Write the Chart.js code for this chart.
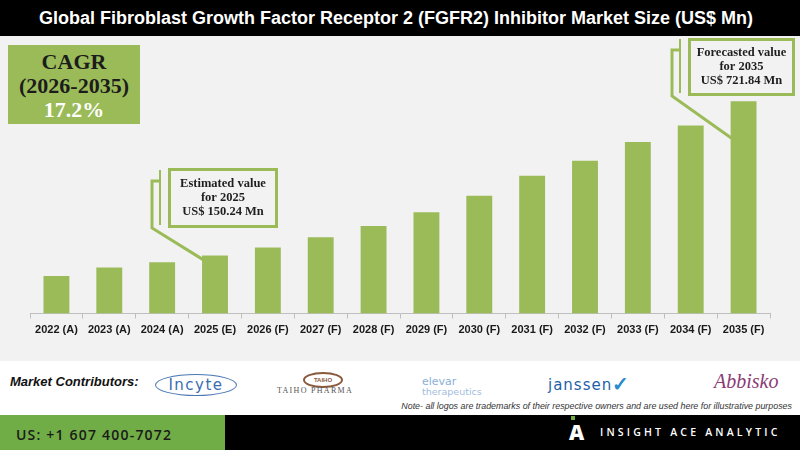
<!DOCTYPE html>
<html>
<head>
<meta charset="utf-8">
<script src="https://cdn.jsdelivr.net/npm/chart.js@4.4.1/dist/chart.umd.min.js"></script>
<style>
body { margin:0; width:800px; height:450px; overflow:hidden; background:#fff; font-family:Arial, "Liberation Sans", sans-serif; position:relative; }
#title { position:absolute; left:0; top:0; width:792px; height:36px; background:#000; color:#fff; font-weight:bold; font-size:18px; line-height:36px; text-align:center; padding-right:8px; }
#plot { position:absolute; left:0; top:36px; width:800px; height:325px; background:#f2f2f2; }
#cagr { position:absolute; left:8px; top:45px; width:132px; height:79px; background:#9bbb59; text-align:center;
        font-family:"Liberation Serif", serif; font-weight:bold; font-size:22px; line-height:24px; padding-top:5px; box-sizing:border-box; color:#1c1c1c; }
#cagr .w { color:#fff; }
.abs { position:absolute; white-space:nowrap; }
#mc { left:10px; top:374px; font-size:13px; font-weight:bold; font-style:italic; color:#111; }
#note { right:8px; top:401px; font-size:8.9px; font-style:italic; color:#333; }
#green { left:0; top:415px; width:225px; height:35px; background:#70ad47; }
#black { left:225px; top:415px; width:575px; height:35px; background:#000; }
#phone { left:16px; top:425px; font-family:"Open Sans", sans-serif; font-weight:600; font-size:14px; letter-spacing:1.2px; color:#1a1a1a; }
#brand { left:600px; top:425px; font-family:"Open Sans", sans-serif; font-weight:600; font-size:10.5px; letter-spacing:3.2px; color:#fff; }
#brandA { left:569px; top:418px; font-family:"Open Sans", sans-serif; font-weight:800; font-size:21px; color:#fff; }
#dot { left:571px; top:416px; width:4px; height:4px; background:#70ad47; }
#incyte { left:155px; top:374px; width:80px; height:20px; border:1.5px solid #4a78b5; border-radius:50%; text-align:center;
          font-size:15px; line-height:20px; color:#3b6db0; letter-spacing:1.5px; font-family:"DejaVu Sans", sans-serif; }
#taihoC { left:303px; top:372px; width:36px; height:12px; border:2px solid #8a5a3c; border-radius:50%; text-align:center;
          font-size:6px; line-height:12px; color:#8a5a3c; font-weight:bold; }
#taiho { left:277px; top:386px; font-size:8px; letter-spacing:1.3px; color:#555; font-family:"Liberation Serif", serif; }
#elevar1 { left:422px; top:376px; font-size:11px; color:#8ab0d6; font-family:"DejaVu Sans", sans-serif; line-height:11px; }
#elevar2 { left:422px; top:387px; font-size:9.5px; color:#9fbddc; font-family:"DejaVu Sans", sans-serif; line-height:10px; }
#janssen { left:548px; top:376px; font-size:15px; color:#1f5fa8; letter-spacing:1px; font-family:"DejaVu Sans", sans-serif; }
#swoosh { left:612px; top:372px; font-size:20px; color:#2a8ad0; font-weight:bold; }
#abbisko { left:714px; top:370px; font-size:20px; font-style:italic; color:#8b3a74; font-family:"Liberation Serif", serif; }
</style>
</head>
<body>
<div id="title">Global Fibroblast Growth Factor Receptor 2 (FGFR2) Inhibitor Market Size (US$ Mn)</div>
<div id="plot"><canvas id="chart" width="800" height="325"></canvas></div>
<div id="cagr">CAGR<br>(2026-2035)<br><span class="w">17.2%</span></div>

<div class="abs" id="mc">Market Contributors:</div>
<div class="abs" id="incyte">Incyte</div>
<div class="abs" id="taihoC">TAIHO</div>
<div class="abs" id="taiho">TAIHO PHARMA</div>
<div class="abs" id="elevar1">elevar</div>
<div class="abs" id="elevar2">therapeutics</div>
<div class="abs" id="janssen">janssen</div>
<div class="abs" id="swoosh">✓</div>
<div class="abs" id="abbisko">Abbisko</div>
<div class="abs" id="note">Note- all logos are trademarks of their respective owners and are used here for illustrative purposes</div>

<div class="abs" id="green"></div>
<div class="abs" id="black"></div>
<div class="abs" id="phone">US: +1 607 400-7072</div>
<div class="abs" id="brandA">A</div>
<div class="abs" id="dot"></div>
<div class="abs" id="brand">INSIGHT ACE ANALYTIC</div>

<script>
const ctx = document.getElementById('chart');

// años y valores del mercado (US$ Mn)
const years = ['2022 (A)', '2023 (A)', '2024 (A)', '2025 (E)', '2026 (F)', '2027 (F)', '2028 (F)',
               '2029 (F)', '2030 (F)', '2031 (F)', '2032 (F)', '2033 (F)', '2034 (F)', '2035 (F)'];
const marketSize = [75, 106, 126, 150.24, 180, 218, 260, 311, 372, 446, 501, 571, 632, 721.84];

// el eje de la imagen no empieza en cero
const yMin = -64;
const yMax = 926;

// cuadros de texto con flecha hacia la barra
const callouts = [
    { index: 3, box: [168, 132, 110, 60], rail: [160, 134, 189], bracket: [152, 145], drop: 4,
      lines: ['Estimated value', 'for 2025', 'US$ 150.24 Mn'] },
    { index: 13, box: [688, 2, 107, 58], rail: [680, 3, 57], bracket: [672, 14], drop: 37,
      lines: ['Forecasted value', 'for 2035', 'US$ 721.84 Mn'] }
];

const calloutPlugin = {
    id: 'callouts',
    afterDatasetsDraw(chart) {
        const c = chart.ctx;
        const bars = chart.getDatasetMeta(0).data;
        c.save();
        callouts.forEach(co => {
            const bar = bars[co.index];
            const [bx, by, bw, bh] = co.box;
            c.strokeStyle = '#9bbb59';
            // linea fina vertical
            c.lineWidth = 2;
            c.beginPath();
            c.moveTo(co.rail[0], co.rail[1]);
            c.lineTo(co.rail[0], co.rail[2]);
            c.stroke();
            // corchete y diagonal hacia la barra
            c.lineWidth = 3;
            c.beginPath();
            c.moveTo(co.rail[0], co.bracket[1]);
            c.lineTo(co.bracket[0], co.bracket[1]);
            c.lineTo(co.bracket[0], by + bh);
            c.lineTo(bar.x - bar.width / 2 + 1, bar.y + co.drop);
            c.stroke();
            // caja
            c.fillStyle = '#f2f2f2';
            c.fillRect(bx, by, bw, bh);
            c.strokeRect(bx + 1.5, by + 1.5, bw - 3, bh - 3);
            c.fillStyle = '#1f1f1f';
            c.font = 'bold 12.5px "Liberation Serif", serif';
            c.textAlign = 'center';
            c.textBaseline = 'middle';
            co.lines.forEach((t, i) => c.fillText(t, bx + bw / 2, by + bh / 2 + (i - 1) * 14));
        });
        c.restore();
    }
};

new Chart(ctx, {
    type: 'bar',
    data: {
        labels: years,
        datasets: [{
            data: marketSize,
            base: yMin,
            backgroundColor: '#9bbb59',
            barPercentage: 0.49,
            categoryPercentage: 1
        }]
    },
    options: {
        responsive: false,
        animation: false,
        devicePixelRatio: 1,
        layout: { padding: { left: 30, right: 30, top: 10, bottom: 0 } },
        plugins: { legend: { display: false }, tooltip: { enabled: false } },
        scales: {
            x: {
                afterFit(scale) { scale.height = 47.5; },
                grid: { display: true, drawOnChartArea: false, tickLength: 5, color: '#bfbfbf', offset: true },
                border: { color: '#bfbfbf' },
                ticks: { color: '#1a1a1a', font: { family: 'Arial', size: 11, weight: 'bold' }, padding: 5, maxRotation: 0, autoSkip: false }
            },
            y: { display: false, min: yMin, max: yMax }
        }
    },
    plugins: [calloutPlugin]
});
</script>
</body>
</html>
